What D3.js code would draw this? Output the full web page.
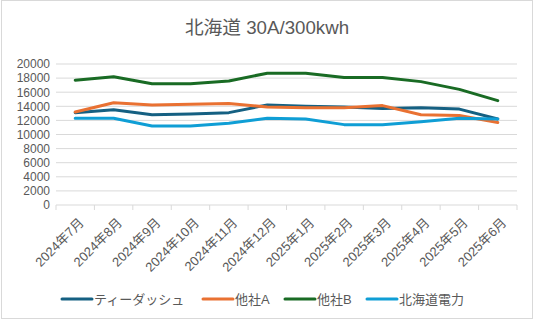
<!DOCTYPE html>
<html>
<head>
<meta charset="utf-8">
<script src="https://cdn.jsdelivr.net/npm/d3@7"></script>
<style>
  body { margin: 0; background: #fff; }
  svg text { font-family: "Liberation Sans", "Noto Sans CJK JP", sans-serif; fill: #595959; }
</style>
</head>
<body>
<div id="chart"></div>
<script>
// 月ラベル
const months = ['2024年7月', '2024年8月', '2024年9月', '2024年10月', '2024年11月', '2024年12月',
    '2025年1月', '2025年2月', '2025年3月', '2025年4月', '2025年5月', '2025年6月'];

// 各社の料金（円）
const tDash = [13100, 13500, 12800, 12900, 13100, 14200, 14000, 13900, 13700, 13800, 13600, 12200];
const otherA = [13200, 14500, 14200, 14300, 14400, 13900, 13800, 13800, 14100, 12800, 12700, 11700];
const otherB = [17700, 18200, 17200, 17200, 17600, 18700, 18700, 18100, 18100, 17500, 16400, 14800];
const hokuden = [12300, 12300, 11200, 11200, 11600, 12300, 12200, 11400, 11400, 11800, 12300, 12200];

const seriesNames = ['ティーダッシュ', '他社A', '他社B', '北海道電力'];
const yTicks = [0, 2000, 4000, 6000, 8000, 10000, 12000, 14000, 16000, 18000, 20000];

const colors = ['#156082', '#E97132', '#196B24', '#0F9ED5'];

const series = [tDash, otherA, otherB, hokuden].map((values, i) => ({
    name: seriesNames[i],
    color: colors[i],
    values
}));

const dimensions = {
    width: 534,
    height: 321,
    margin: {top: 64, right: 17, bottom: 116, left: 56}
};
dimensions.boundWidth = dimensions.width - dimensions.margin.left - dimensions.margin.right;
dimensions.boundHeight = dimensions.height - dimensions.margin.top - dimensions.margin.bottom;

const root = d3.select('#chart')
    .append('svg')
    .attr('width', dimensions.width)
    .attr('height', dimensions.height);

// 外枠
root.append('rect')
    .attr('x', 1.5).attr('y', 0.5)
    .attr('width', dimensions.width - 3)
    .attr('height', dimensions.height - 3)
    .attr('fill', '#fff')
    .attr('stroke', '#d9d9d9');

// タイトル
root.append('text')
    .attr('x', 267)
    .attr('y', 34)
    .attr('text-anchor', 'middle')
    .style('font-size', '18.7px')
    .text('北海道 30A/300kwh');

const svg = root.append('g')
    .attr('transform', `translate(${dimensions.margin.left},${dimensions.margin.top})`);

const xScale = d3.scaleBand().domain(months).range([0, dimensions.boundWidth]);
const yScale = d3.scaleLinear().domain([0, 20000]).range([dimensions.boundHeight, 0]);

// グリッド線
svg.append('g')
    .selectAll('line')
    .data(yTicks.filter(d => d > 0))
    .join('line')
    .attr('x1', 0)
    .attr('x2', dimensions.boundWidth)
    .attr('y1', d => yScale(d))
    .attr('y2', d => yScale(d))
    .attr('stroke', '#d9d9d9')
    .attr('stroke-width', 1);

// Y軸
const yAxis = d3.axisLeft(yScale).tickValues(yTicks).tickSize(0).tickPadding(6).tickFormat(d3.format('d'));
svg.append('g')
    .call(yAxis)
    .call(g => g.select('.domain').remove())
    .selectAll('text')
    .style('font-size', '12px');

// X軸（目盛りは区切り位置）
const xAxisG = svg.append('g').attr('transform', `translate(0,${dimensions.boundHeight})`);
xAxisG.append('line')
    .attr('x1', 0).attr('x2', dimensions.boundWidth)
    .attr('stroke', '#d9d9d9');
xAxisG.selectAll('.tick-mark')
    .data(d3.range(months.length + 1))
    .join('line')
    .attr('class', 'tick-mark')
    .attr('x1', i => i * xScale.bandwidth())
    .attr('x2', i => i * xScale.bandwidth())
    .attr('y1', 0).attr('y2', 5)
    .attr('stroke', '#d9d9d9');
xAxisG.selectAll('.x-label')
    .data(months)
    .join('text')
    .attr('class', 'x-label')
    .attr('transform', d => `translate(${xScale(d) + xScale.bandwidth() / 2 + 3},${12}) rotate(-45)`)
    .attr('text-anchor', 'end')
    .attr('dy', '0.7em')
    .style('font-size', '13px')
    .text(d => d);

// 折れ線
const line = d3.line()
    .x((d, i) => xScale(months[i]) + xScale.bandwidth() / 2)
    .y(d => yScale(d));

svg.append('g')
    .selectAll('path')
    .data(series)
    .join('path')
    .attr('d', s => line(s.values))
    .attr('fill', 'none')
    .attr('stroke', s => s.color)
    .attr('stroke-width', 3)
    .attr('stroke-linejoin', 'round')
    .attr('stroke-linecap', 'round');

// 凡例
const legendX = [62, 203, 285, 367];
const legend = root.append('g')
    .selectAll('g')
    .data(series)
    .join('g')
    .attr('transform', (s, i) => `translate(${legendX[i]},299)`);
legend.append('line')
    .attr('x1', 0).attr('x2', 30)
    .attr('stroke', s => s.color)
    .attr('stroke-width', 3)
    .attr('stroke-linecap', 'round');
legend.append('text')
    .attr('x', 32)
    .attr('dy', '0.35em')
    .style('font-size', '13px')
    .text(s => s.name);
</script>
</body>
</html>
